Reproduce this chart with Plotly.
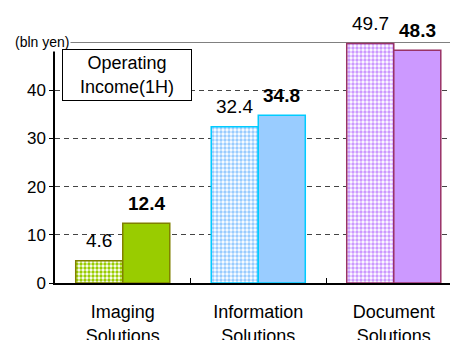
import plotly.graph_objects as go

# Operating income by segment, first half (billions of yen)
categories = ["Imaging<br>Solutions", "Information<br>Solutions", "Document<br>Solutions"]
prior_year = [4.6, 32.4, 49.7]
current_year = [12.4, 34.8, 48.3]

fill_colors = ["#99cc00", "#99ccff", "#cc99ff"]
edge_colors = ["#808000", "#00ccff", "#993366"]

FONT = "Liberation Sans, Arial, sans-serif"

fig = go.Figure()

fig.add_trace(go.Bar(
    x=categories, y=prior_year,
    marker=dict(
        color="white",
        line=dict(color=edge_colors, width=1.5),
        pattern=dict(shape=".", fgcolor=fill_colors, bgcolor="white",
                     size=4, solidity=0.55, fillmode="replace"),
    ),
    showlegend=False, hoverinfo="skip",
))
fig.add_trace(go.Bar(
    x=categories, y=current_year,
    marker=dict(color=fill_colors, line=dict(color=edge_colors, width=1.5)),
    showlegend=False, hoverinfo="skip",
))

# value labels above each bar
offset = 0.1734
annotations = []
for i, (p, c) in enumerate(zip(prior_year, current_year)):
    annotations.append(dict(x=i - offset, y=p, xref="x", yref="y", text=f"{p:.1f}",
                            showarrow=False, yshift=20,
                            font=dict(family=FONT, size=19, color="black")))
    annotations.append(dict(x=i + offset, y=c, xref="x", yref="y", text=f"<b>{c:.1f}</b>",
                            showarrow=False, yshift=20,
                            font=dict(family=FONT, size=19, color="black")))

# unit label on the top line
annotations.append(dict(x=-0.033, y=50, xref="paper", yref="y", text="(bln yen)",
                        xanchor="center", yanchor="middle",
                        showarrow=False, bgcolor="white",
                        font=dict(family=FONT, size=14, color="black")))

# boxed chart caption
annotations.append(dict(x=0.182, y=0.864, xref="paper", yref="paper",
                        xanchor="center", yanchor="middle",
                        text="Operating<br>Income(1H)", showarrow=False,
                        bgcolor="white", bordercolor="black", borderwidth=1, borderpad=1,
                        width=126, height=48,
                        font=dict(family=FONT, size=18, color="black")))

fig.update_layout(
    width=450, height=340,
    margin=dict(l=55, r=0, t=42, b=57, autoexpand=False),
    paper_bgcolor="white", plot_bgcolor="white",
    barmode="group", bargap=0.306, bargroupgap=0,
    font=dict(family=FONT, size=18, color="black"),
    annotations=annotations,
    shapes=[dict(type="line", xref="paper", yref="y", x0=0, x1=1.05, y0=50, y1=50,
                 line=dict(color="#808080", width=2), layer="below")],
    xaxis=dict(
        type="category", range=[-0.5, 2.415], automargin=False,
        showline=True, linecolor="black", linewidth=1.5,
        ticks="inside", tickson="boundaries", ticklen=5, tickcolor="black",
        showgrid=False, tickfont=dict(family=FONT, size=18),
        ticklabelstandoff=12,
    ),
    yaxis=dict(
        range=[0, 50], tickvals=[0, 10, 20, 30, 40], automargin=False,
        showline=True, linecolor="black", linewidth=1.5,
        ticks="outside", ticklen=4, tickcolor="black",
        showgrid=True, gridcolor="#444444", griddash="5px,4px", gridwidth=1,
        zeroline=False, tickfont=dict(family=FONT, size=17),
    ),
)

fig.write_html("out.html")
